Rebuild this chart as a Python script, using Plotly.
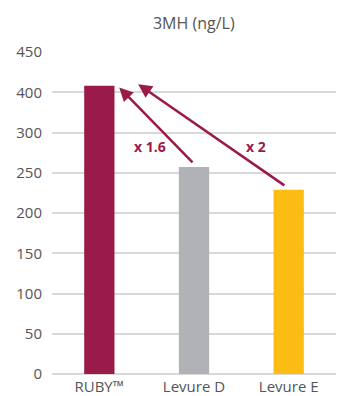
import plotly.graph_objects as go

categories = ["RUBY™", "Levure D", "Levure E"]
values = [358, 257, 229]
colors = ["#9a1b4a", "#b1b2b5", "#fbbd14"]
tick_vals = [0, 50, 100, 150, 200, 250, 300, 350, 400]
tick_text = ["0", "50", "100", "150", "200", "250", "300", "400", "450"]
ratio_labels = ["x 1.6", "x 2"]

crimson = "#9a1b4a"
fig = go.Figure(go.Bar(x=categories, y=values, marker=dict(color=colors, line=dict(width=0)),
                       width=0.32, hoverinfo="skip"))

# arrows (tail -> tip in data coords)
arrows = [((1.0, 261), (0.21, 356)), ((1.97, 233), (0.41, 360))]
for (tx, ty), (hx, hy) in arrows:
    fig.add_annotation(x=hx, y=hy, ax=tx, ay=ty, xref="x", yref="y", axref="x", ayref="y",
                       showarrow=True, arrowhead=2, arrowsize=1.1, arrowwidth=2.5,
                       arrowcolor=crimson, text="")
fig.add_annotation(x=0.53, y=283, xref="x", yref="y", text="<b>" + ratio_labels[0] + "</b>",
                   showarrow=False, font=dict(size=14, color=crimson, family="Open Sans"))
fig.add_annotation(x=1.65, y=283, xref="x", yref="y", text="<b>" + ratio_labels[1] + "</b>",
                   showarrow=False, font=dict(size=14, color=crimson, family="Open Sans"))

fig.update_layout(
    width=340, height=396,
    margin=dict(l=52, r=4, t=52, b=22),
    paper_bgcolor="white", plot_bgcolor="white",
    title=dict(text="3MH (ng/L)", x=0.57, xanchor="center", y=1 - 23 / 396, yanchor="middle",
               font=dict(size=16, color="#555555", family="Open Sans")),
    showlegend=False,
    font=dict(family="Open Sans", size=15, color="#555555"),
)
fig.update_yaxes(range=[0, 400], tickvals=tick_vals, ticktext=tick_text, showgrid=True,
                 gridcolor="#d9d9d9", gridwidth=1.5, zeroline=True, zerolinecolor="#d9d9d9",
                 zerolinewidth=1.5, showline=False, ticklabelstandoff=9, automargin=False,
                 tickfont=dict(size=15, color="#555555"))
fig.update_xaxes(showline=False, showgrid=False, ticklabelstandoff=2, automargin=False,
                 tickfont=dict(size=15, color="#555555"))

fig.write_html("out.html")
